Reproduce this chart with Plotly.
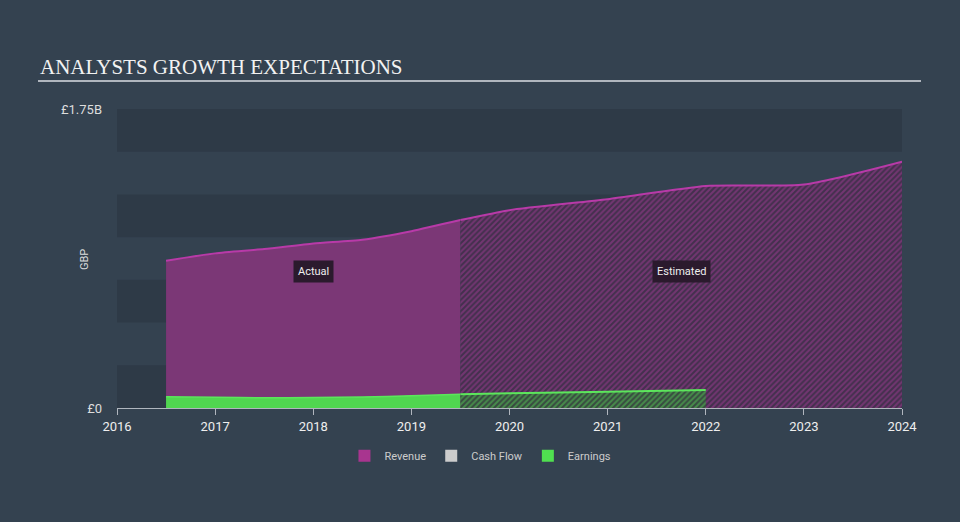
import plotly.graph_objects as go

# ---- data (GBP billions) ----
rev_actual_x = [2016.5, 2017.0, 2017.5, 2018.0, 2018.5, 2019.0, 2019.5]
rev_actual_y = [0.862, 0.905, 0.930, 0.963, 0.985, 1.035, 1.100]
rev_est_x = [2019.5, 2020.0, 2021.0, 2022.0, 2023.0, 2024.0]
rev_est_y = [1.100, 1.158, 1.222, 1.300, 1.308, 1.442]

earn_actual_x = [2016.5, 2017.0, 2017.5, 2018.0, 2018.5, 2019.0, 2019.5]
earn_actual_y = [0.066, 0.063, 0.060, 0.061, 0.064, 0.071, 0.080]
earn_est_x = [2019.5, 2020.0, 2021.0, 2022.0]
earn_est_y = [0.080, 0.087, 0.095, 0.105]

year_ticks = [2016, 2017, 2018, 2019, 2020, 2021, 2022, 2023, 2024]
y_ticks = [0, 1.75]
y_tick_text = ["£0", "£1.75B"]
band_edges = [(0, 0.25), (0.5, 0.75), (1.0, 1.25), (1.5, 1.75)]

PAPER = "#344250"
BAND = "#2e3a47"
REV_LINE = "#b83aa8"
REV_FILL = "#7b3776"
EARN_FILL = "#50d650"
EARN_LINE = "#5ce65c"

fig = go.Figure()

# Revenue actual
fig.add_trace(go.Scatter(
    x=rev_actual_x, y=rev_actual_y, mode="lines", fill="tozeroy",
    line=dict(color=REV_LINE, width=2, shape="spline", smoothing=0.6),
    fillcolor=REV_FILL, showlegend=False, hoverinfo="skip"))
# Revenue estimated (hatched)
fig.add_trace(go.Scatter(
    x=rev_est_x, y=rev_est_y, mode="lines", fill="tozeroy",
    line=dict(color=REV_LINE, width=2, shape="spline", smoothing=0.6),
    fillcolor="#43304d",
    fillpattern=dict(shape="/", fgcolor="#a23b96", bgcolor="#43304d",
                     size=4, solidity=0.5),
    showlegend=False, hoverinfo="skip"))
# Earnings actual
fig.add_trace(go.Scatter(
    x=earn_actual_x, y=earn_actual_y, mode="lines", fill="tozeroy",
    line=dict(color=EARN_LINE, width=1.5, shape="spline", smoothing=0.6),
    fillcolor=EARN_FILL, showlegend=False, hoverinfo="skip"))
# Earnings estimated (hatched)
fig.add_trace(go.Scatter(
    x=earn_est_x, y=earn_est_y, mode="lines", fill="tozeroy",
    line=dict(color=EARN_LINE, width=2, shape="spline", smoothing=0.6),
    fillcolor="#384a40",
    fillpattern=dict(shape="/", fgcolor="#55cc55", bgcolor="#384a40",
                     size=4, solidity=0.5),
    showlegend=False, hoverinfo="skip"))

# Legend entries
for name, col in [("Revenue", "#a8358f"), ("Cash Flow", "#cccccc"), ("Earnings", "#50e050")]:
    fig.add_trace(go.Scatter(
        x=[None], y=[None], mode="markers", name=name,
        marker=dict(symbol="square", size=14, color=col)))

shapes = []
for lo, hi in band_edges:
    shapes.append(dict(type="rect", xref="paper", yref="y", x0=0, x1=1, y0=lo, y1=hi,
                       fillcolor=BAND, line=dict(width=0), layer="below"))
# title underline
shapes.append(dict(type="line", xref="paper", yref="paper",
                   x0=(38 - 117) / 785, x1=(921 - 117) / 785,
                   y0=(408 - 81) / 299, y1=(408 - 81) / 299,
                   line=dict(color="#b0b6be", width=2)))

annotations = [
    dict(text="ANALYSTS GROWTH EXPECTATIONS", xref="paper", yref="paper",
         x=(38 - 117) / 785, y=(408 - 67) / 299, xanchor="left", yanchor="middle",
         showarrow=False, font=dict(family="Liberation Serif", size=21, color="#f2f2f2")),
    dict(text="GBP", xref="paper", yref="paper", x=(85 - 117) / 785, y=0.495,
         xanchor="center", yanchor="middle",
         textangle=-90, showarrow=False, font=dict(family="Roboto", size=11, color="#dddddd")),
    dict(text="Actual", x=2018.0, y=0.80, xref="x", yref="y", showarrow=False,
         bgcolor="#2b1a2d", borderpad=4, font=dict(family="Roboto", size=11, color="#eeeeee")),
    dict(text="Estimated", x=2021.75, y=0.80, xref="x", yref="y", showarrow=False,
         bgcolor="#2b1a2d", borderpad=4, font=dict(family="Roboto", size=11, color="#eeeeee")),
]

fig.update_layout(
    width=960, height=522,
    margin=dict(l=117, r=58, t=109, b=114),
    paper_bgcolor=PAPER, plot_bgcolor=PAPER,
    shapes=shapes, annotations=annotations,
    showlegend=True,
    legend=dict(orientation="h", x=0.463, y=-0.16, xanchor="center", yanchor="middle",
                font=dict(family="Roboto", size=11, color="#cccccc"),
                bgcolor="rgba(0,0,0,0)", itemsizing="constant", itemwidth=30),
    xaxis=dict(range=[2016, 2024], tickvals=year_ticks, ticktext=[str(t) for t in year_ticks],
               showgrid=False, zeroline=False, showline=True, linecolor="#b0b6be", linewidth=1,
               ticks="outside", ticklen=6, tickcolor="#b0b6be",
               tickfont=dict(family="Roboto", size=13, color="#eeeeee")),
    yaxis=dict(range=[0, 1.75], tickvals=y_ticks, ticktext=y_tick_text,
               showgrid=False, zeroline=False, showline=False, ticks="",
               ticklabelstandoff=14,
               tickfont=dict(family="Roboto", size=13, color="#dddddd")),
)

fig.write_html("out.html", config={"displayModeBar": False},
               post_script="document.body.style.margin='0';document.body.style.padding='0';"
                           "document.body.style.background='#344250';")
